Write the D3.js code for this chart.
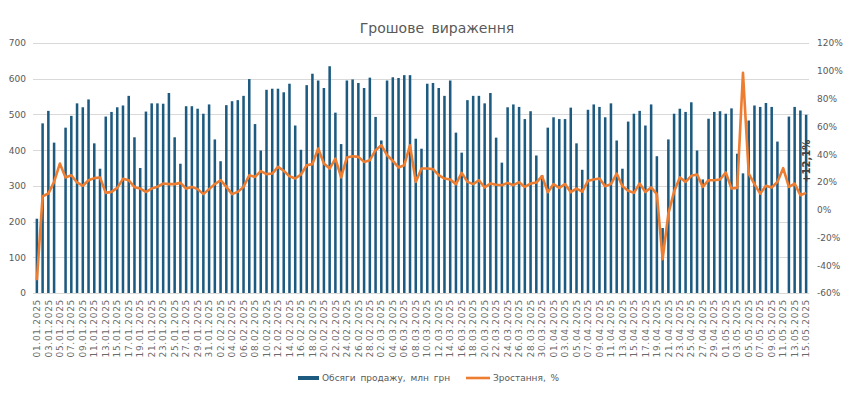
<!DOCTYPE html>
<meta charset="utf-8">
<html lang="uk">
<head>
<title>Грошове вираження</title>
<style>
body { margin: 0; background: #fff; }
text { font-family: "DejaVu Sans", sans-serif; fill: #595959; }
.grid line { stroke: #d9d9d9; }
</style>
</head>
<body>
<script src="https://d3js.org/d3.v7.min.js"></script>
<script>

var width = 850,
    height = 393;

// daily sales, mln UAH (null = no bar shown)
var volumes = [
  208, 475, 510, 421, null, 463, 496, 531, 520, 542,
  419, 348, 494, 507, 520, 525, 552, 436, 350, 508,
  531, 531, 530, 560, 436, 362, 523, 523, 516, 502,
  528, 430, 369, 526, 537, 540, 552, 599, 473, 399,
  569, 572, 572, 562, 586, 469, 401, 582, 614, 595,
  574, 635, 505, 417, 595, 598, 588, 574, 603, 493,
  427, 595, 604, 602, 610, 610, 432, 404, 586, 588,
  574, 552, 595, 449, 393, 540, 552, 552, 531, 560,
  435, 365, 520, 528, 521, 487, 509, 385, 330, 463,
  492, 487, 487, 519, 419, 345, 513, 528, 521, 492,
  531, 427, 348, 480, 502, 510, 469, 528, 383, 182,
  430, 502, 516, 507, 534, 399, 318, 488, 507, 509,
  502, 517, 390, 335, 483, 525, 521, 532, 521, 424,
  null, 494, 521, 511, 499
];

// growth, %
var growth = [
  -50.8, 9.7, 11.6, 20, 33.2, 23.2, 24.8, 19.6, 17.2, 21.2,
  22.7, 23.2, 12.1, 12.8, 15.7, 22.2, 21.2, 16.2, 15.2, 12.8,
  15.2, 16.5, 18.8, 18.4, 18.4, 19.3, 15.2, 16.4, 14.8, 11.2,
  14.8, 18.4, 21.2, 16.4, 11.2, 12.8, 16.4, 24.8, 23.6, 27.7,
  25.6, 26, 30.8, 28, 24, 22.4, 25.3, 32, 32.8, 44,
  33.2, 29.6, 36.8, 23.2, 37.6, 38.5, 38, 34.4, 35.6, 42.8,
  46.4, 39.2, 35.2, 30.4, 32, 46.4, 20, 29.6, 29.6, 29.2,
  24.8, 22.4, 21.7, 18.4, 26.5, 20, 18.4, 21.2, 16, 18.8,
  17.9, 17.6, 19.3, 17.6, 19.8, 16.4, 18.8, 19.5, 24.1, 12.6,
  18.4, 15.7, 18.4, 12.6, 15.2, 13, 20.8, 21.7, 22.4, 16.9,
  18.4, 26, 16.9, 13.6, 12.1, 18.8, 12.8, 16, 11.2, -35.6,
  -2.8, 13, 23.2, 20, 24.4, 25.3, 16.4, 21.2, 21.2, 21.7,
  26.8, 15.2, 15.7, 98.5, 26, 18.4, 11.6, 17.2, 16, 20,
  29.9, 16.4, 18.8, 10.4, 12.1
];

var leftTicks = [0, 100, 200, 300, 400, 500, 600, 700];
var rightTicks = [-60, -40, -20, 0, 20, 40, 60, 80, 100, 120];

// dates 01.01.2025 .. 15.05.2025
var fmt = d3.timeFormat("%d.%m.%Y");
var dates = d3.timeDay.range(new Date(2025, 0, 1), new Date(2025, 4, 16)).map(fmt);

var data = dates.map(function(d, i) {
  return { date: d, vol: volumes[i], g: growth[i] };
});

var plot = { left: 34, right: 809, top: 43, bottom: 293 };

var x = d3.scaleBand()
    .domain(dates)
    .range([plot.left, plot.right])
    .paddingInner(0.56)
    .paddingOuter(0.28);

var yL = d3.scaleLinear().domain([0, 700]).range([plot.bottom, plot.top]);
var yR = d3.scaleLinear().domain([-60, 120]).range([plot.bottom, plot.top]);

var svg = d3.select("body").append("svg")
    .attr("width", width)
    .attr("height", height);

svg.append("text")
    .attr("x", 437)
    .attr("y", 33)
    .attr("text-anchor", "middle")
    .style("font-size", "14px")
    .style("word-spacing", "3px")
    .text("Грошове вираження");

// gridlines
svg.append("g")
    .attr("class", "grid")
    .selectAll("line")
    .data(leftTicks)
  .enter().append("line")
    .attr("x1", plot.left - 1)
    .attr("x2", plot.right)
    .attr("y1", function(d) { return Math.round(yL(d)) + 0.5; })
    .attr("y2", function(d) { return Math.round(yL(d)) + 0.5; });

// left axis
var axL = svg.append("g")
    .attr("transform", "translate(" + (plot.left - 8) + ",0)")
    .call(d3.axisLeft(yL).tickValues(leftTicks).tickSize(0).tickPadding(0));
axL.select(".domain").remove();
axL.selectAll("text").style("font-size", "9px").style("fill", "#595959");

// right axis
var axR = svg.append("g")
    .attr("transform", "translate(" + (plot.right + 8) + ",0)")
    .call(d3.axisRight(yR).tickValues(rightTicks).tickSize(0).tickPadding(0)
      .tickFormat(function(d) { return d + "%"; }));
axR.select(".domain").remove();
axR.selectAll("text").style("font-size", "9px").style("fill", "#595959");

// bars
svg.append("g")
    .selectAll("rect")
    .data(data.filter(function(d) { return d.vol != null; }))
  .enter().append("rect")
    .attr("x", function(d) { return x(d.date); })
    .attr("width", x.bandwidth())
    .attr("y", function(d) { return yL(d.vol); })
    .attr("height", function(d) { return yL(0) - yL(d.vol); })
    .attr("fill", "#1d5a80");

// growth line
var line = d3.line()
    .x(function(d) { return x(d.date) + x.bandwidth() / 2; })
    .y(function(d) { return yR(d.g); });

svg.append("path")
    .datum(data)
    .attr("fill", "none")
    .attr("stroke", "#ed7d31")
    .attr("stroke-width", 2.6)
    .attr("stroke-linejoin", "round")
    .attr("d", line);

// last value label
var last = data[data.length - 1];
svg.append("text")
    .attr("transform", "translate(" + (x(last.date) + x.bandwidth() / 2) + "," + (yR(last.g) - 10) + ") rotate(-90)")
    .attr("dy", "0.35em")
    .style("font-size", "10px")
    .style("font-weight", "bold")
    .style("fill", "#404040")
    .text("+" + String(last.g).replace(".", ",") + "%");

// x labels, every second day
svg.append("g")
    .selectAll("text")
    .data(data.filter(function(d, i) { return i % 2 === 0; }))
  .enter().append("text")
    .attr("transform", function(d) {
      return "translate(" + (x(d.date) + x.bandwidth() / 2) + "," + (plot.bottom + 6) + ") rotate(-90)";
    })
    .attr("text-anchor", "end")
    .attr("dy", "0.35em")
    .style("font-size", "9px")
    .style("letter-spacing", "0.7px")
    .style("fill", "#6a6a6a")
    .text(function(d) { return d.date; });

// legend
var lg = svg.append("g");
lg.append("rect")
    .attr("x", 298).attr("y", 376).attr("width", 21).attr("height", 4)
    .attr("fill", "#1d5a80");
lg.append("text")
    .attr("x", 322).attr("y", 381)
    .style("font-size", "9px")
    .style("word-spacing", "2px")
    .text("Обсяги продажу, млн грн");
lg.append("line")
    .attr("x1", 466).attr("x2", 490).attr("y1", 378).attr("y2", 378)
    .attr("stroke", "#ed7d31").attr("stroke-width", 2.6);
lg.append("text")
    .attr("x", 493).attr("y", 381)
    .style("font-size", "9px")
    .style("word-spacing", "2px")
    .text("Зростання, %");

</script>
</body>
</html>
